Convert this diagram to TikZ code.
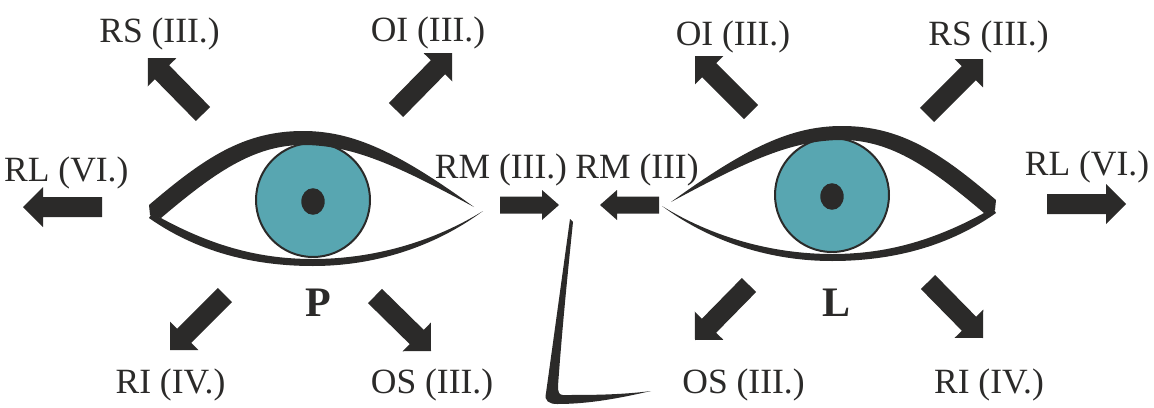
\documentclass[tikz,border=0pt]{standalone}
\usepackage{fontspec}
\setmainfont{Liberation Serif}
\usetikzlibrary{calc}
\definecolor{ink}{HTML}{2B2A29}
\definecolor{iriscol}{HTML}{58A6B1}

% Block arrow from tail to tip:
% #1 name, #2 tail, #3 tip, #4 shaft half-width, #5 head half-width, #6 head length
\newcommand{\blockarrow}[6]{%
  \coordinate (#1-base) at ($(#3)!#6!(#2)$);
  \fill[arrowfill]
    ($(#2)!#4!90:(#3)$) -- ($(#1-base)!#4!90:(#3)$) -- ($(#1-base)!#5!90:(#3)$)
    -- (#3)
    -- ($(#1-base)!#5!-90:(#3)$) -- ($(#1-base)!#4!-90:(#3)$) -- ($(#2)!#4!-90:(#3)$) -- cycle;
}

\begin{document}
\begin{tikzpicture}[x=1pt,y=-1pt,
  muscle/.style={text=ink, font=\fontsize{35.5}{40}\selectfont, anchor=base, inner sep=0pt},
  sidemark/.style={text=ink, font=\fontsize{42}{46}\selectfont\bfseries, anchor=base, inner sep=0pt},
  arrowfill/.style={fill=ink},
  eye/.pic={
    % iris and pupil
    \fill[iriscol, draw=ink, line width=2pt] (0,0) circle[radius=57];
    \fill[ink] (0,1.5) ellipse[x radius=11.7, y radius=13.3];
    % upper lid: thick at the outer corner, tapering to the inner one
    \fill[ink] (-164,5) .. controls (-110,-41) and (-70,-69) .. (-10,-69)
      .. controls (40,-69) and (85,-48) .. (161,7)
      .. controls (85,-34) and (40,-55) .. (-10,-55)
      .. controls (-60,-55) and (-100,-26) .. (-152,18)
      -- (-163,15) -- cycle;
    % lower lid
    \fill[ink] (-161,13) .. controls (-100,48) and (-50,59) .. (0,59)
      .. controls (60,59) and (120,42) .. (170,11)
      .. controls (120,48) and (60,66) .. (0,66)
      .. controls (-50,66) and (-110,56) .. (-164,18) -- cycle;
  }]
\useasboundingbox (0,0) rectangle (1154,407);

% eyes
\pic (eyeP) at (313,200) {eye};
\pic[xscale=-1] (eyeL) at (832,195) {eye};

% nose
\fill[ink] (570,219) .. controls (563,270) and (552,350) .. (546,393)
  .. controls (544,401) and (549,404) .. (557,404)
  .. controls (590,404) and (620,398) .. (651,391)
  .. controls (620,395) and (590,395) .. (563,395)
  .. controls (559,395) and (558,392) .. (558,386)
  .. controls (562,330) and (568,270) .. (573,222) -- cycle;

% arrow end points
\coordinate (rsP-tail) at (203,114); \coordinate (rsP-tip) at (148,58);
\coordinate (oiP-tail) at (396,110); \coordinate (oiP-tip) at (452,53);
\coordinate (rlP-tail) at (102,207); \coordinate (rlP-tip) at (23,207);
\coordinate (rmP-tail) at (500,205); \coordinate (rmP-tip) at (559,205);
\coordinate (riP-tail) at (225,295); \coordinate (riP-tip) at (170,350);
\coordinate (osP-tail) at (375,296); \coordinate (osP-tip) at (431,351);
\coordinate (rmL-tail) at (659,205); \coordinate (rmL-tip) at (600,205);
\coordinate (oiL-tail) at (751,112); \coordinate (oiL-tip) at (695,56);
\coordinate (rsL-tail) at (927,115); \coordinate (rsL-tip) at (983,59);
\coordinate (rlL-tail) at (1047,204); \coordinate (rlL-tip) at (1126,204);
\coordinate (osL-tail) at (749,285); \coordinate (osL-tip) at (695,340);
\coordinate (riL-tail) at (928,282); \coordinate (riL-tip) at (983,338);

% arrows
\blockarrow{rsP}{rsP-tail}{rsP-tip}{10pt}{20pt}{20pt}
\blockarrow{oiP}{oiP-tail}{oiP-tip}{10pt}{20pt}{20pt}
\blockarrow{rlP}{rlP-tail}{rlP-tip}{10pt}{20pt}{20pt}
\blockarrow{rmP}{rmP-tail}{rmP-tip}{8.5pt}{15pt}{17pt}
\blockarrow{riP}{riP-tail}{riP-tip}{10pt}{20pt}{20pt}
\blockarrow{osP}{osP-tail}{osP-tip}{10pt}{20pt}{20pt}
\blockarrow{rmL}{rmL-tail}{rmL-tip}{8.5pt}{15pt}{17pt}
\blockarrow{oiL}{oiL-tail}{oiL-tip}{10pt}{20pt}{20pt}
\blockarrow{rsL}{rsL-tail}{rsL-tip}{10pt}{20pt}{20pt}
\blockarrow{rlL}{rlL-tail}{rlL-tip}{10pt}{20pt}{20pt}
\blockarrow{osL}{osL-tail}{osL-tip}{10pt}{20pt}{20pt}
\blockarrow{riL}{riL-tail}{riL-tip}{10pt}{20pt}{20pt}

% muscle labels
\node[muscle] (rsP-text) at (159.5,42.3) {RS (III.)};
\node[muscle] (oiP-text) at (428,41.7) {OI (III.)};
\node[muscle] (rlP-text) at (66.3,181.7) {RL (VI.)};
\node[muscle] (rmP-text) at (501,178.3) {RM (III.)};
\node[muscle] (riP-text) at (170.5,393) {RI (IV.)};
\node[muscle] (osP-text) at (432,393) {OS (III.)};
\node[muscle] (rmL-text) at (637,178.3) {RM (III)};
\node[muscle] (oiL-text) at (733,45) {OI (III.)};
\node[muscle] (rsL-text) at (988.5,45) {RS (III.)};
\node[muscle] (rlL-text) at (1087,175) {RL (VI.)};
\node[muscle] (osL-text) at (743.5,393) {OS (III.)};
\node[muscle] (riL-text) at (989,393) {RI (IV.)};

% side marks
\node[sidemark] (sideP) at (318,316.7) {P};
\node[sidemark] (sideL) at (836,316.7) {L};
\end{tikzpicture}
\end{document}
